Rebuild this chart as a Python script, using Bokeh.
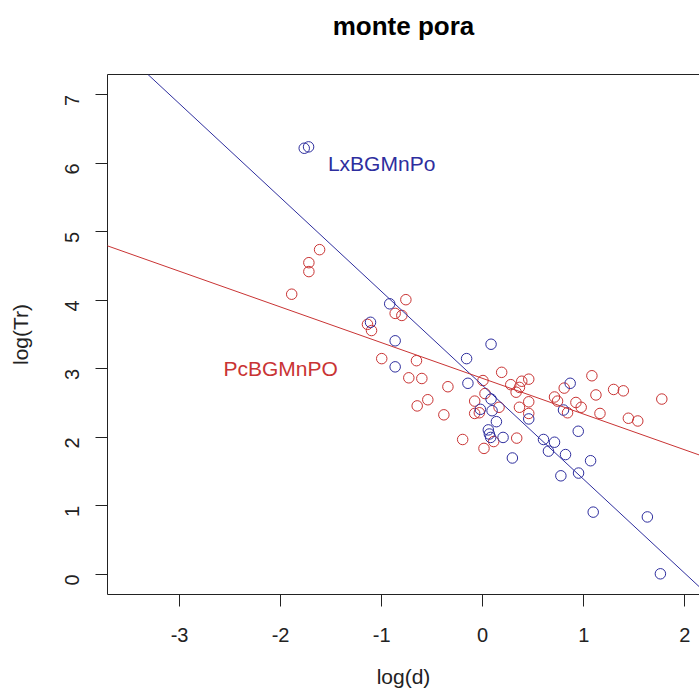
import math
from bokeh.plotting import figure
from bokeh.models import Range1d, FixedTicker, LinearAxis, Slope, Label
from bokeh.embed import file_html
from bokeh.resources import INLINE

# ---- data ----
lx_x = [-1.766, -1.723, -0.920, -1.110, -0.866, -0.866, 0.083, -0.159, -0.146, 0.083,
        0.093, -0.023, 0.136, 0.056, 0.066, 0.079, 0.202, 0.294, 0.456, 0.602,
        0.651, 0.711, 0.820, 0.774, 0.866, 0.800, 0.946, 0.949, 1.068, 1.094,
        1.630, 1.759]
lx_y = [6.22, 6.24, 3.95, 3.68, 3.41, 3.03, 3.36, 3.15, 2.79, 2.56,
        2.39, 2.41, 2.23, 2.11, 2.05, 2.00, 2.00, 1.70, 2.27, 1.97,
        1.80, 1.93, 1.75, 1.44, 2.79, 2.40, 2.09, 1.48, 1.66, 0.91,
        0.84, 0.01]

pc_x = [-1.614, -1.720, -1.720, -1.890, -0.760, -0.866, -0.800, -1.140, -1.100, -0.999,
        -0.655, -0.731, -0.602, -0.344, -0.648, -0.543, -0.384, -0.198, 0.013, 0.003,
        0.188, 0.023, -0.079, -0.079, -0.033, 0.162, 0.109, 0.278, 0.387, 0.456,
        0.331, 0.364, 0.364, 0.456, 0.456, 0.337, 0.711, 0.741, 0.807, 0.840,
        0.923, 0.975, 1.081, 1.121, 1.161, 1.296, 1.392, 1.442, 1.535, 1.773]
pc_y = [4.74, 4.55, 4.42, 4.09, 4.01, 3.81, 3.78, 3.65, 3.56, 3.15,
        3.12, 2.87, 2.86, 2.74, 2.46, 2.55, 2.33, 1.97, 1.84, 2.83,
        2.95, 2.64, 2.53, 2.35, 2.36, 2.44, 1.94, 2.77, 2.82, 2.85,
        2.66, 2.73, 2.44, 2.52, 2.35, 1.99, 2.59, 2.53, 2.72, 2.36,
        2.51, 2.44, 2.90, 2.62, 2.35, 2.70, 2.68, 2.28, 2.24, 2.56]

# fitted lines (intercept, slope)
lx_fit = (2.758, -1.370)
pc_fit = (2.861, -0.521)

x_ticks = [-3, -2, -1, 0, 1, 2]
y_ticks = [0, 1, 2, 3, 4, 5, 6, 7]

lx_label = ("LxBGMnPo", -1.0, 6.0)
pc_label = ("PcBGMnPO", -2.0, 3.0)

title_text = "monte pora"
x_title = "log(d)"
y_title = "log(Tr)"

# ---- styling ----
RED = "#C93434"
BLUE = "#2E2E9E"
FONT = "Liberation Sans"

p = figure(width=699, height=700, output_backend="svg", toolbar_location=None,
           x_range=Range1d(-3.713, 2.146), y_range=Range1d(-0.292, 7.296),
           x_axis_label=x_title, y_axis_label=y_title,
           min_border_left=107, min_border_right=0, min_border_top=74,
           min_border_bottom=106)

p.grid.visible = False
p.outline_line_color = None
p.background_fill_color = "white"
p.border_fill_color = "white"

for ax, ticks in ((p.xaxis[0], x_ticks), (p.yaxis[0], y_ticks)):
    ax.ticker = FixedTicker(ticks=ticks)
    ax.major_label_overrides = {t: str(t) for t in ticks}
    ax.minor_tick_line_color = None
    ax.major_tick_in = 0
    ax.major_tick_out = 12
    ax.major_tick_line_color = "#222222"
    ax.axis_line_color = "#222222"
    ax.major_label_text_font = FONT
    ax.major_label_text_font_size = "20px"
    ax.major_label_text_color = "#222222"
    ax.axis_label_text_font = FONT
    ax.axis_label_text_font_size = "21px"
    ax.axis_label_text_font_style = "normal"
    ax.axis_label_text_color = "#222222"

p.yaxis[0].major_label_orientation = math.pi / 2
p.xaxis[0].major_label_standoff = 21
p.yaxis[0].major_label_standoff = 23
p.xaxis[0].axis_label_standoff = 20
p.yaxis[0].axis_label_standoff = 24

# top border of the box; its axis label carries the main title
top_axis = LinearAxis(ticker=FixedTicker(ticks=[]), major_label_text_font_size="0px",
                      major_tick_out=0, major_tick_in=0, minor_tick_line_color=None,
                      axis_line_color="#222222", axis_label=title_text,
                      axis_label_text_font=FONT, axis_label_text_font_size="26px",
                      axis_label_text_font_style="bold", axis_label_text_color="black",
                      axis_label_standoff=34)
p.add_layout(top_axis, "above")

p.scatter(pc_x, pc_y, marker="circle", size=10.5, fill_color=None,
          line_color=RED, line_width=1)
p.scatter(lx_x, lx_y, marker="circle", size=10.5, fill_color=None,
          line_color=BLUE, line_width=1)

p.add_layout(Slope(gradient=lx_fit[1], y_intercept=lx_fit[0], line_color=BLUE, line_width=1))
p.add_layout(Slope(gradient=pc_fit[1], y_intercept=pc_fit[0], line_color=RED, line_width=1))

for (txt, tx, ty), col in ((lx_label, BLUE), (pc_label, RED)):
    p.add_layout(Label(x=tx, y=ty, text=txt, text_color=col, text_font=FONT,
                       text_font_size="21px", text_align="center",
                       text_baseline="middle"))

open("out.html", "w").write(file_html(p, INLINE))
